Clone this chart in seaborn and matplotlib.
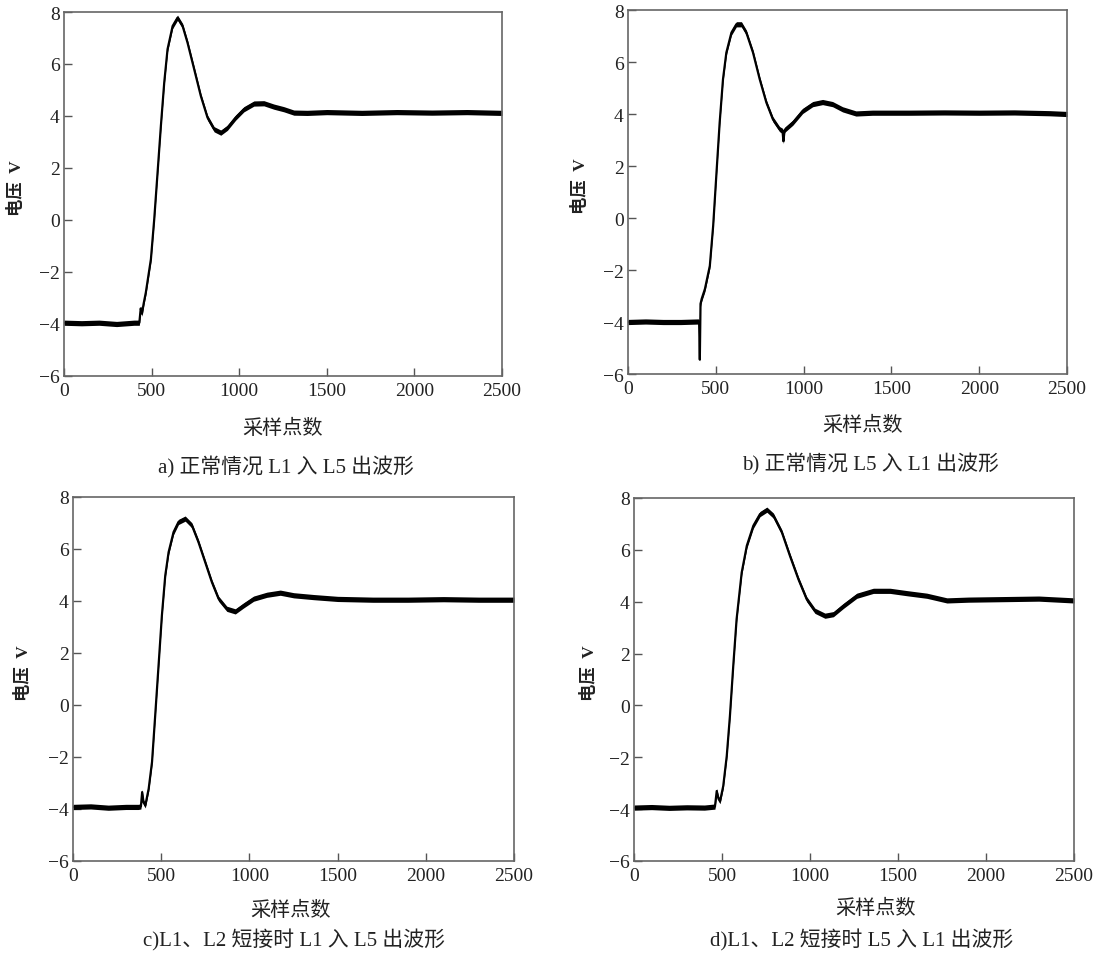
import numpy as np
import matplotlib
matplotlib.use("Agg")
import matplotlib.pyplot as plt
import seaborn as sns

# ---------------- data ----------------
a_x = [0, 100, 200, 300, 400, 430, 438, 445, 455, 467, 496, 515, 534, 553, 572, 591, 620, 648, 677, 705,
       743, 781, 819, 857, 895, 933, 980, 1027, 1084, 1141, 1198, 1255, 1312, 1388, 1500, 1700, 1900,
       2100, 2300, 2500]
a_y = [-3.95, -3.97, -3.95, -4.0, -3.95, -3.95, -3.4, -3.6, -3.2, -2.79, -1.51, 0.03, 1.82, 3.62, 5.28,
       6.57, 7.46, 7.78, 7.46, 6.82, 5.8, 4.77, 3.94, 3.49, 3.36, 3.55, 3.94, 4.26, 4.48, 4.49, 4.36,
       4.26, 4.13, 4.12, 4.15, 4.12, 4.15, 4.13, 4.15, 4.12]

b_x = [0, 100, 200, 300, 400, 405, 409, 413, 420, 438, 466, 485, 504, 522, 541, 560, 589, 617, 646, 674,
       712, 750, 788, 825, 863, 880, 885, 892, 939, 995, 1052, 1108, 1165, 1222, 1298, 1392, 1600, 1800,
       2000, 2200, 2400, 2500]
b_y = [-4.0, -3.98, -4.0, -4.0, -3.98, -4.0, -5.45, -3.3, -3.1, -2.73, -1.84, -0.30, 1.75, 3.67, 5.34,
       6.36, 7.13, 7.45, 7.45, 7.13, 6.36, 5.34, 4.44, 3.80, 3.42, 3.35, 2.95, 3.39, 3.67, 4.12, 4.38,
       4.46, 4.38, 4.18, 4.02, 4.05, 4.05, 4.06, 4.05, 4.06, 4.03, 4.0]

c_x = [0, 100, 200, 300, 370, 385, 392, 400, 410, 429, 448, 466, 485, 504, 523, 542, 570, 598, 636, 674,
       711, 749, 787, 825, 872, 920, 967, 1024, 1099, 1175, 1251, 1364, 1500, 1700, 1900, 2100, 2300,
       2500]
c_y = [-3.92, -3.9, -3.95, -3.92, -3.92, -3.9, -3.35, -3.75, -3.86, -3.22, -2.19, -0.4, 1.52, 3.45, 4.98,
       5.88, 6.65, 7.04, 7.17, 6.91, 6.27, 5.5, 4.73, 4.09, 3.70, 3.6, 3.83, 4.09, 4.24, 4.32, 4.22,
       4.15, 4.08, 4.05, 4.05, 4.07, 4.05, 4.05]

d_x = [0, 100, 200, 300, 400, 460, 470, 480, 489, 507, 527, 545, 564, 583, 612, 641, 678, 716, 755, 792,
       840, 886, 934, 981, 1028, 1085, 1133, 1190, 1266, 1360, 1455, 1550, 1664, 1778, 1900, 2100, 2300,
       2500]
d_y = [-3.94, -3.92, -3.95, -3.93, -3.94, -3.9, -3.3, -3.6, -3.69, -3.11, -1.95, -0.41, 1.53, 3.33, 5.13,
       6.16, 6.93, 7.38, 7.55, 7.32, 6.68, 5.77, 4.87, 4.10, 3.65, 3.46, 3.52, 3.84, 4.23, 4.42, 4.42,
       4.33, 4.23, 4.05, 4.08, 4.1, 4.12, 4.05]

noise_halfwidth = [0.10, 0.10, 0.10, 0.10]   # half-width of the noisy trace band, volts

captions = ["a) 正常情况 L1 入 L5 出波形",
            "b) 正常情况 L5 入 L1 出波形",
            "c)L1、L2 短接时 L1 入 L5 出波形",
            "d)L1、L2 短接时 L5 入 L1 出波形"]
xlabel = "采样点数"
ylabel = "电压  V"
xticks = [0, 500, 1000, 1500, 2000, 2500]
yticks = [-6, -4, -2, 0, 2, 4, 6, 8]

# ---------------- style ----------------
sns.set_theme(style="white")
plt.rcParams["font.family"] = ["Liberation Serif", "Noto Sans CJK SC"]
plt.rcParams["axes.unicode_minus"] = True

W, H = 1096, 954
fig = plt.figure(figsize=(W / 100, H / 100), dpi=100)
fig.patch.set_facecolor("white")

# axes boxes in pixels: left, right, top, bottom
boxes = [(64, 502, 13, 377), (628, 1067, 11, 375), (73, 514, 498, 862), (634, 1074, 499, 862)]
ylab_x = [-0.108, -0.108, -0.112, -0.102]
xlab_pos = [(0.50, -0.143), (0.535, -0.14), (0.494, -0.137), (0.548, -0.132)]
cap_pos = [(286, 467), (870, 464), (294, 940), (862, 940)]

series = [(a_x, a_y), (b_x, b_y), (c_x, c_y), (d_x, d_y)]

for i, ((xs, ys), (l, r, t, b)) in enumerate(zip(series, boxes)):
    ax = fig.add_axes([l / W, 1 - b / H, (r - l) / W, (b - t) / H])
    xa = np.asarray(xs, dtype=float)
    ya = np.asarray(ys, dtype=float)
    hw = noise_halfwidth[i]
    ax.fill_between(xa, ya - hw, ya + hw, color="black", linewidth=0)
    sns.lineplot(x=xa, y=ya, ax=ax, color="black", linewidth=1.6, estimator=None, sort=False)
    ax.set_xlim(0, 2500)
    ax.set_ylim(-6, 8)
    ax.set_xticks(xticks)
    ax.set_yticks(yticks)
    ax.tick_params(axis="both", which="major", direction="in", length=6, width=1.0,
                   color="#555555", labelsize=14, labelcolor="#222222",
                   bottom=True, left=True, top=False, right=False)
    ax.tick_params(axis="x", pad=4)
    ax.tick_params(axis="y", pad=3)
    for s in ax.spines.values():
        s.set_color("#666666")
        s.set_linewidth(1.2)
    ax.set_ylabel(ylabel, fontsize=12.5, fontweight="bold", color="#222222", va="center")
    ax.yaxis.set_label_coords(ylab_x[i], 0.52)
    ax.set_xlabel(xlabel, fontsize=14.5, color="#222222", va="center")
    ax.xaxis.set_label_coords(*xlab_pos[i])
    cx, cy = cap_pos[i]
    fig.text(cx / W, 1 - cy / H, captions[i], fontsize=15, color="#222222", ha="center", va="center")

fig.savefig("out.png", dpi=100, facecolor="white")
